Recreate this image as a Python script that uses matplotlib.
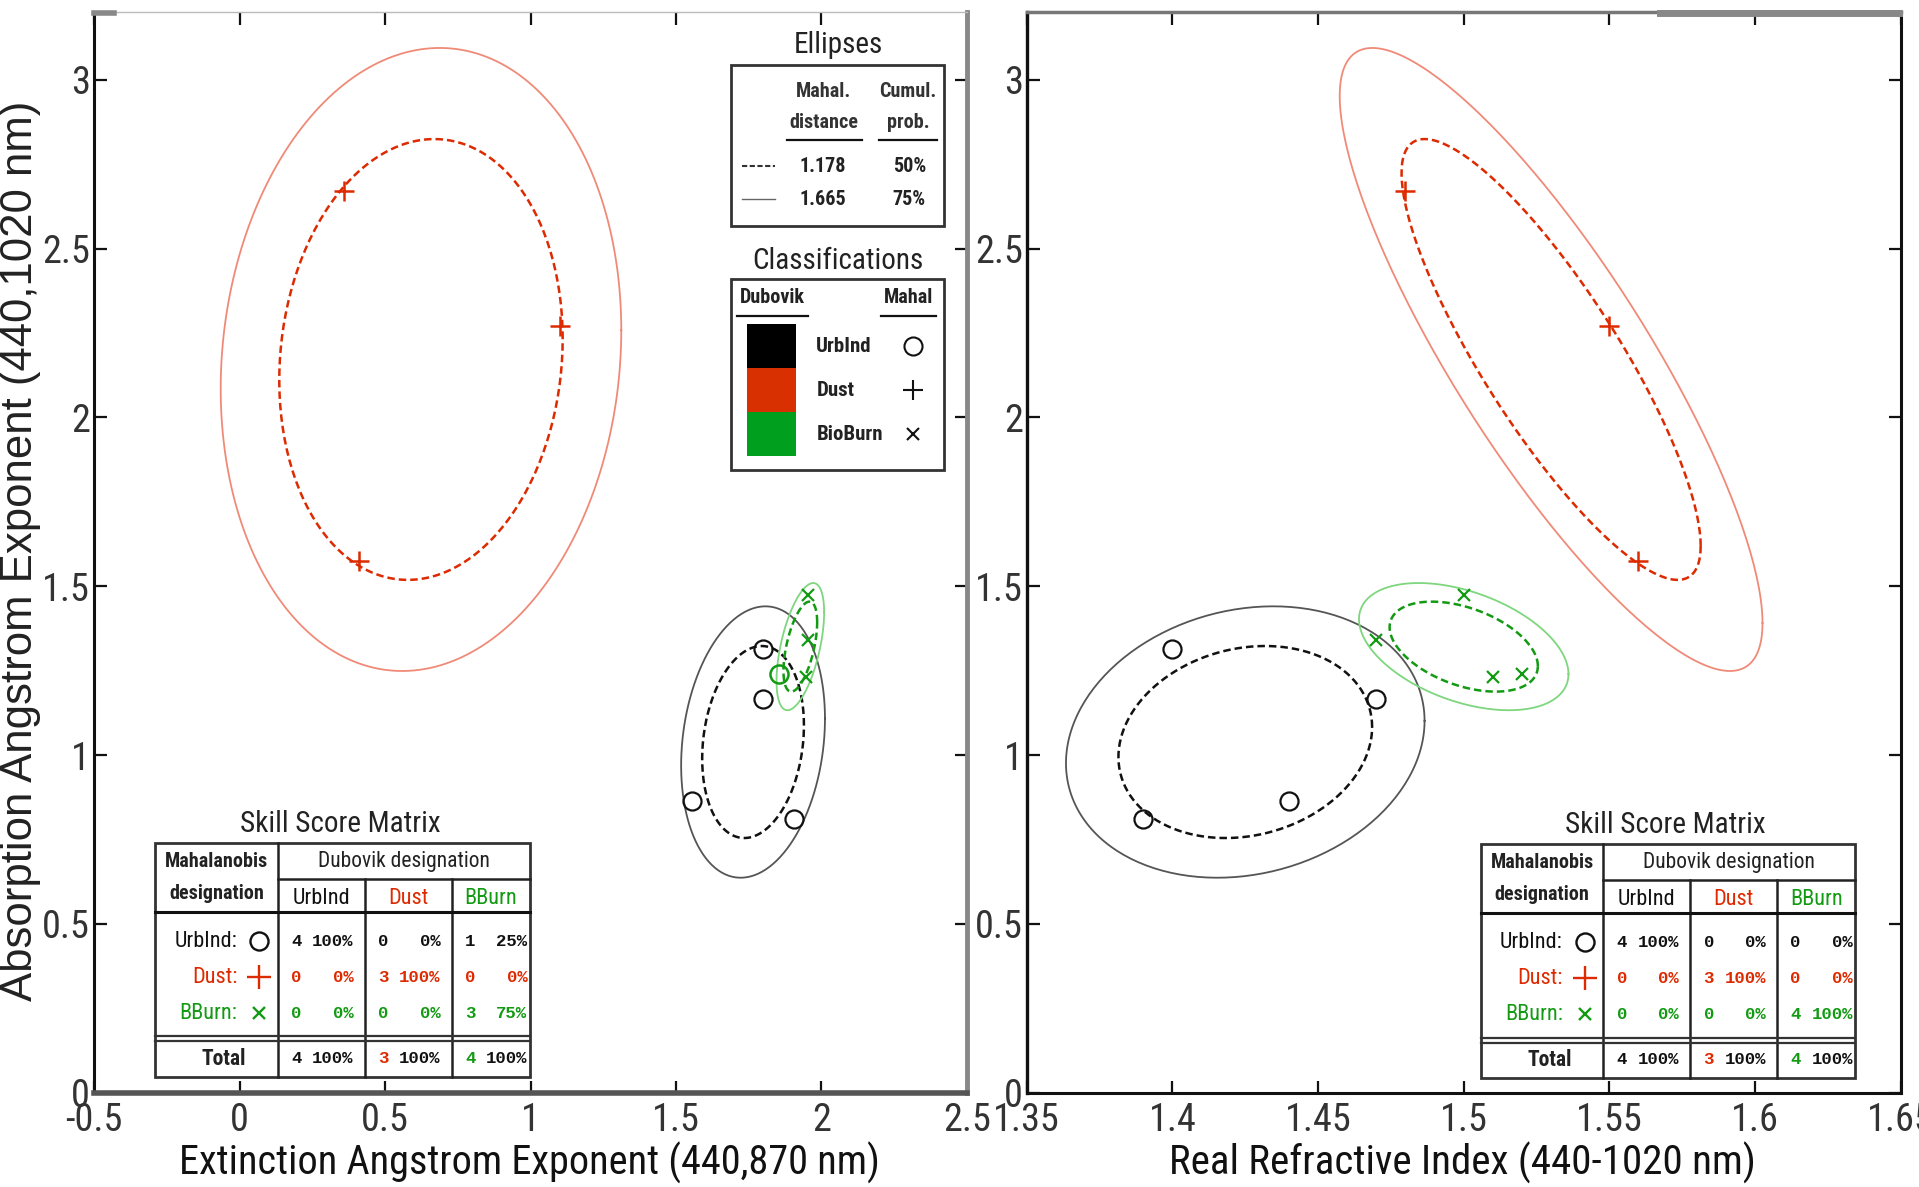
import os
import numpy as np
import matplotlib
matplotlib.use("Agg")
import matplotlib.pyplot as plt
from matplotlib import font_manager
from matplotlib.font_manager import FontProperties
from matplotlib.lines import Line2D
from matplotlib.patches import Rectangle

# ---------------- data ----------------
# Absorption Angstrom exponent (440,1020 nm), shared by both panels
urb_aae = [1.315, 1.165, 0.865, 0.81]
dust_aae = [2.67, 2.27, 1.575]
bb_aae = [1.473, 1.342, 1.23, 1.24]

# Extinction Angstrom exponent (440,870 nm)
urb_eae = [1.80, 1.80, 1.555, 1.905]
dust_eae = [0.36, 1.10, 0.41]
bb_eae = [1.955, 1.955, 1.946, 1.854]

# Real refractive index (440-1020 nm)
urb_rri = [1.40, 1.47, 1.44, 1.39]
dust_rri = [1.48, 1.55, 1.56]
bb_rri = [1.50, 1.47, 1.51, 1.52]

# Mahalanobis class assigned to each biomass-burning point
bb_mahal_left = ["BB", "BB", "BB", "Urb"]
bb_mahal_right = ["BB", "BB", "BB", "BB"]

# ellipse levels
mahal_dist = [1.178, 1.665]
cumul_prob = ["50%", "75%"]

# skill score matrices (rows: Mahalanobis class, cols: Dubovik class)
class_names = ["UrbInd", "Dust", "BBurn"]
left_counts = [[4, 0, 1], [0, 3, 0], [0, 0, 3]]
left_pct = [[100, 0, 25], [0, 100, 0], [0, 0, 75]]
right_counts = [[4, 0, 0], [0, 3, 0], [0, 0, 4]]
right_pct = [[100, 0, 0], [0, 100, 0], [0, 0, 100]]
total_counts = [4, 3, 4]
total_pct = [100, 100, 100]

x_ticks_left = [-0.5, 0, 0.5, 1, 1.5, 2, 2.5]
x_ticks_right = [1.35, 1.4, 1.45, 1.5, 1.55, 1.6, 1.65]
y_ticks = [0, 0.5, 1, 1.5, 2, 2.5, 3]


# ---------------- fonts ----------------
def pick_condensed(bold):
    rank = ["liberationsansnarrow", "arialn", "robotocondensed", "roboto_condensed",
            "dejavusanscondensed", "opensans_condensed", "opensanscondensed", "notosans_condensed",
            "notosanscondensed"]
    best = None
    for f in font_manager.fontManager.ttflist:
        fn = os.path.basename(f.fname).lower().replace("-", "").replace(" ", "")
        if not any(k in fn for k in ("narrow", "condensed")):
            continue
        if any(k in fn for k in ("italic", "oblique", "light", "thin", "black", "medium",
                                 "semibold", "extra", "semicondensed")):
            continue
        isbold = "bold" in fn
        if isbold != bold:
            continue
        r = next((i for i, k in enumerate(rank) if k in fn), len(rank))
        if best is None or r < best[0]:
            best = (r, f.fname)
    return best[1] if best else None


COND = pick_condensed(False)
COND_B = pick_condensed(True) or COND
SCALE = 1.0 if COND else 0.82


def fp(size, bold=False):
    path = COND_B if bold else COND
    if path:
        return FontProperties(fname=path, size=size)
    return FontProperties(family="Liberation Sans", size=size * SCALE,
                          weight="bold" if bold else "normal")


REG = "Liberation Sans"
MONO = "Liberation Mono"

RED = "#DD2A00"
RED_L = "#F08A78"
GRN = "#139A13"
GRN_L = "#7ED67E"
BLK = "#111111"
BLK_L = "#555555"

fig = plt.figure(figsize=(19.19, 11.87), dpi=100)
W, H = 1568.0, 970.0


def F(x, y):
    """layout position -> figure fraction"""
    return x / W, 1 - y / H


def ftext(x, y, s, size=14, bold=False, **kw):
    kw.setdefault("ha", "center")
    kw.setdefault("va", "center")
    if "family" in kw:
        fig.text(*F(x, y), s, fontsize=size, **kw)
    else:
        fig.text(*F(x, y), s, fontproperties=fp(size, bold), **kw)


def fline(xs, ys, **kw):
    fx = [x / W for x in xs]
    fy = [1 - y / H for y in ys]
    fig.add_artist(Line2D(fx, fy, transform=fig.transFigure, **kw))


def fmark(x, y, marker, color, ms, mew=1.5):
    fx, fy = F(x, y)
    fig.add_artist(Line2D([fx], [fy], transform=fig.transFigure, marker=marker,
                          ms=ms, mew=mew, mfc="none", mec=color, ls="none"))


def ellipse(xs, ys, d, n=240):
    X = np.vstack([xs, ys])
    mu = X.mean(axis=1)
    L = np.linalg.cholesky(np.cov(X))
    t = np.linspace(0, 2 * np.pi, n)
    pts = mu[:, None] + L @ (d * np.vstack([np.cos(t), np.sin(t)]))
    return pts[0], pts[1]


def style_axes(ax, xt, xlim):
    ax.set_xlim(*xlim)
    ax.set_ylim(0, 3.2)
    ax.set_xticks(xt)
    ax.set_yticks(y_ticks)
    ax.set_xticklabels([f"{v:g}" for v in xt])
    ax.set_yticklabels([f"{v:g}" for v in y_ticks])
    ax.tick_params(direction="in", length=9, width=1.6, top=True, right=True,
                   pad=3, colors="#111111")
    for lab in ax.get_xticklabels() + ax.get_yticklabels():
        lab.set_fontproperties(fp(27.5))
        lab.set_color("#333333")
    ax.tick_params(axis="x", pad=7)


def draw_panel(ax, xu, xd, xb, bb_mahal):
    groups = [(xu, urb_aae, BLK, BLK_L), (xd, dust_aae, RED, RED_L), (xb, bb_aae, GRN, GRN_L)]
    for gx, gy, c_dash, c_solid in groups:
        ex, ey = ellipse(gx, gy, mahal_dist[1])
        ax.plot(ex, ey, color=c_solid, lw=1.3)
        ex, ey = ellipse(gx, gy, mahal_dist[0])
        ax.plot(ex, ey, color=c_dash, lw=1.8, dashes=(3, 1.6))
    ax.plot(xu, urb_aae, ls="none", marker="o", ms=13, mfc="none", mec=BLK, mew=1.6)
    ax.plot(xd, dust_aae, ls="none", marker="+", ms=15, mec=RED, mew=1.8)
    for x, y, m in zip(xb, bb_aae, bb_mahal):
        if m == "Urb":
            ax.plot(x, y, marker="o", ms=13, mfc="none", mec=GRN, mew=1.8)
        else:
            ax.plot(x, y, marker="x", ms=9, mec=GRN, mew=1.6)


# ---------------- axes ----------------
axL = fig.add_axes([77 / W, 1 - 893 / H, (790 - 77) / W, (893 - 10) / H])
axR = fig.add_axes([839 / W, 1 - 893 / H, (1553 - 839) / W, (893 - 10) / H])
style_axes(axL, x_ticks_left, (-0.5, 2.5))
style_axes(axR, x_ticks_right, (1.35, 1.65))

draw_panel(axL, urb_eae, dust_eae, bb_eae, bb_mahal_left)
draw_panel(axR, urb_rri, dust_rri, bb_rri, bb_mahal_right)

axL.spines["left"].set(color="#111111", lw=2.2)
axL.spines["top"].set(color="#BBBBBB", lw=1.0)
axL.spines["right"].set(color="#888888", lw=3.5)
axL.spines["bottom"].set(color="#555555", lw=4.0)
axR.spines["left"].set(color="#111111", lw=2.4)
axR.spines["top"].set(color="#777777", lw=2.5)
axR.spines["right"].set(color="#111111", lw=2.2)
axR.spines["bottom"].set(color="#111111", lw=2.2)
# darker frame fragments along the top edges
fline([77, 93], [11, 11], color="#888888", lw=4)
fline([1356, 1552], [11, 11], color="#888888", lw=5)

ftext(17, 450, "Absorption Angstrom Exponent (440,1020 nm)", rotation=90,
      size=31.5, family=REG, color="#222222")
ftext(433, 950, "Extinction Angstrom Exponent (440,870 nm)", size=29, color="#111111")
ftext(1195, 950, "Real Refractive Index (440-1020 nm)", size=29.5, color="#111111")

# ---------------- Ellipses key ----------------
ftext(685, 37, "Ellipses", size=21, color="#222222")
fig.add_artist(Rectangle(F(597, 185), (771 - 597) / W, (185 - 53) / H, transform=fig.transFigure,
                         fill=True, fc="white", ec="#333333", lw=2))
ftext(673, 75, "Mahal.", size=14.5, bold=True, color="#333333")
ftext(673, 100, "distance", size=14.5, bold=True, color="#333333")
ftext(742, 75, "Cumul.", size=14.5, bold=True, color="#333333")
ftext(742, 100, "prob.", size=14.5, bold=True, color="#333333")
fline([643, 704], [114, 114], color="#111111", lw=1.6)
fline([718, 766], [114, 114], color="#111111", lw=1.6)
for i, (d, p) in enumerate(zip(mahal_dist, cumul_prob)):
    yy = 136 + 27 * i
    if i == 0:
        fline([606, 633], [yy, yy], color="#333333", lw=1.5, dashes=(2.5, 1.2))
    else:
        fline([606, 633], [yy, yy], color="#666666", lw=1.0)
    ftext(672, yy, f"{d:.3f}", size=14.5, bold=True, color="#222222")
    ftext(743, yy, p, size=14.5, bold=True, color="#222222")

# ---------------- Classifications key ----------------
ftext(685, 213, "Classifications", size=21, color="#222222")
fig.add_artist(Rectangle(F(597, 384), (771 - 597) / W, (384 - 228) / H, transform=fig.transFigure,
                         fill=True, fc="white", ec="#333333", lw=2))
ftext(631, 243, "Dubovik", size=14.5, bold=True, color="#222222")
ftext(742, 243, "Mahal", size=14.5, bold=True, color="#222222")
fline([602, 660], [258, 258], color="#111111", lw=1.6)
fline([720, 765], [258, 258], color="#111111", lw=1.6)
key_labels = ["UrbInd", "Dust", "BioBurn"]
key_colors = ["#000000", "#D83000", "#00A01E"]
key_marks = ["o", "+", "x"]
for i in range(3):
    y0 = 265 + 36 * i
    fig.add_artist(Rectangle(F(610, y0 + 36), 40 / W, 36 / H, transform=fig.transFigure,
                             fc=key_colors[i], ec="none"))
    ftext(667, y0 + 18, key_labels[i], ha="left", size=15, bold=True, color="#222222")
    fmark(746, y0 + 18, key_marks[i], "#111111", {"o": 13, "+": 15, "x": 9}[key_marks[i]])


# ---------------- skill score tables ----------------
def skill_table(x0, y0, counts, pct):
    c1, c2, c3, x1 = x0 + 100, x0 + 171, x0 + 242, x0 + 306
    yh, yb, yt1, yt2, y1 = y0 + 29, y0 + 56, y0 + 158, y0 + 162, y0 + 191
    ftext(x0 + 151, y0 - 16, "Skill Score Matrix", size=21, color="#222222")
    fig.add_artist(Rectangle(F(x0, y1), 306 / W, 191 / H, transform=fig.transFigure,
                             fc="white", ec="#333333", lw=2))
    lk = dict(color="#222222", lw=1.8)
    fline([c1, c1], [y0, y1], **lk)
    fline([c1, x1], [yh, yh], **lk)
    fline([c2, c2], [yh, y1], **lk)
    fline([c3, c3], [yh, y1], **lk)
    fline([x0, x1], [yb, yb], color="#111111", lw=2.2)
    fline([x0, x1], [yt1, yt1], color="#333333", lw=1.6)
    fline([x0, x1], [yt2, yt2], color="#333333", lw=1.6)
    ftext(x0 + 50, y0 + 15, "Mahalanobis", size=14.5, bold=True, color="#222222")
    ftext(x0 + 50, y0 + 41, "designation", size=14.5, bold=True, color="#222222")
    ftext((c1 + x1) / 2, y0 + 15, "Dubovik designation", size=15.5, color="#222222")
    cols = [c1, c2, c3, x1]
    ccol = ["#111111", RED, GRN]
    for j in range(3):
        ftext((cols[j] + cols[j + 1]) / 2, y0 + 45, class_names[j], size=16, color=ccol[j])
    marks = ["o", "+", "x"]
    msz = {"o": 13, "+": 17, "x": 9}
    mono = dict(size=12.5, family=MONO, weight="bold")
    for i in range(3):
        yy = y0 + 80 + 29.5 * i
        ftext(x0 + 67, yy, class_names[i] + ":", ha="right", size=16, color=ccol[i])
        fmark(x0 + 85, yy, marks[i], ccol[i], msz[marks[i]], mew=1.7)
        for j in range(3):
            ftext(cols[j] + 11, yy, str(counts[i][j]), ha="left", color=ccol[i], **mono)
            ftext(cols[j] + 62, yy, f"{pct[i][j]}%", ha="right", color=ccol[i], **mono)
    ty = y0 + 176
    ftext(x0 + 56, ty, "Total", size=15.5, bold=True, color="#222222")
    for j in range(3):
        ftext(cols[j] + 11, ty, str(total_counts[j]), ha="left", color=ccol[j], **mono)
        ftext(cols[j] + 62, ty, f"{total_pct[j]}%", ha="right", color="#111111", **mono)


skill_table(127, 689, left_counts, left_pct)
skill_table(1210, 690, right_counts, right_pct)

fig.savefig("out.png", dpi=100)
